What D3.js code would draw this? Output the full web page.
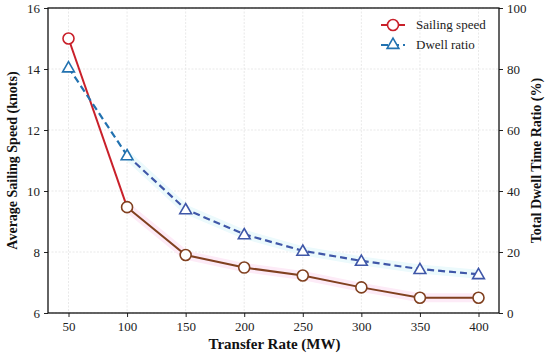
<!DOCTYPE html>
<html><head><meta charset="utf-8">
<script src="https://cdn.jsdelivr.net/npm/d3@7"></script>
<style>body{margin:0;background:#fff}svg{display:block}text{font-family:"Liberation Serif","Times New Roman",serif}</style>
</head><body>
<script>
const rates = [50,100,150,200,250,300,350,400];
const sailingSpeed = [15.0,9.47,7.9,7.49,7.23,6.84,6.5,6.5];
const dwellRatio = [80.5,51.7,34.0,25.8,20.4,17.1,14.4,12.7];
const xTicks = [50,100,150,200,250,300,350,400];
const leftTicks = [6,8,10,12,14,16];
const rightTicks = [0,20,40,60,80,100];

const W=550,H=357, L=48,R=499,T=8,B=313;
const svg=d3.select("body").append("svg").attr("width",W).attr("height",H);
const x=d3.scaleLinear().domain([32.5,417.5]).range([L,R]);
const yL=d3.scaleLinear().domain([6,16]).range([B,T]);
const yR=d3.scaleLinear().domain([0,100]).range([B,T]);

// grid
const g=svg.append("g");
g.selectAll(".vx").data(xTicks).join("line").attr("x1",d=>x(d)).attr("x2",d=>x(d)).attr("y1",T).attr("y2",B)
 .attr("stroke","#e3e3e3").attr("stroke-width",0.8).attr("stroke-dasharray","2,1.5");
g.selectAll(".hy").data(leftTicks).join("line").attr("x1",L).attr("x2",R).attr("y1",d=>yL(d)).attr("y2",d=>yL(d))
 .attr("stroke","#e3e3e3").attr("stroke-width",0.8).attr("stroke-dasharray","2,1.5");

const sTail=sailingSpeed.map((v,i)=>[rates[i],v]).slice(1);
const dTail=dwellRatio.map((v,i)=>[rates[i],v]).slice(1);
const lS2=d3.line().x(d=>x(d[0])).y(d=>yL(d[1]));
const lD2=d3.line().x(d=>x(d[0])).y(d=>yR(d[1]));
// faint glow bands
svg.append("path").attr("d",lS2(sTail)).attr("fill","none").attr("stroke","#fdebf7").attr("stroke-width",9).attr("stroke-linejoin","round");
svg.append("path").attr("d",lD2(dTail)).attr("fill","none").attr("stroke","#ecfafc").attr("stroke-width",9).attr("stroke-linejoin","round");

// sailing line: first segment red, rest brown
svg.append("path").attr("d",lS2([[rates[0],sailingSpeed[0]],[rates[1],sailingSpeed[1]]])).attr("fill","none").attr("stroke","#c9202a").attr("stroke-width",2);
svg.append("path").attr("d",lS2(sTail)).attr("fill","none").attr("stroke","#80401f").attr("stroke-width",2);
// dwell line
svg.append("path").attr("d",lD2([[rates[0],dwellRatio[0]],[rates[1],dwellRatio[1]]])).attr("fill","none").attr("stroke","#2272b0").attr("stroke-width",2.2).attr("stroke-dasharray","7,4");
svg.append("path").attr("d",lD2(dTail)).attr("fill","none").attr("stroke","#3f57a8").attr("stroke-width",2.2).attr("stroke-dasharray","7,4");

// markers
const tri=d3.symbol().type(d3.symbolTriangle).size(60);
svg.selectAll(".tm").data(dwellRatio).join("path").attr("d",tri)
 .attr("transform",(d,i)=>`translate(${x(rates[i])},${yR(d)+1})`)
 .attr("fill","#fff").attr("stroke",(d,i)=>i<2?"#2272b0":"#3f57a8").attr("stroke-width",1.6);
svg.selectAll(".cm").data(sailingSpeed).join("circle").attr("cx",(d,i)=>x(rates[i])).attr("cy",d=>yL(d)).attr("r",5.5)
 .attr("fill","#fff").attr("stroke",(d,i)=>i<1?"#c9202a":"#80401f").attr("stroke-width",1.6);

// axes
const ax=svg.append("g").attr("transform",`translate(0,${B})`).call(d3.axisBottom(x).tickValues(xTicks).tickSize(4).tickPadding(5));
const al=svg.append("g").attr("transform",`translate(${L},0)`).call(d3.axisLeft(yL).tickValues(leftTicks).tickSize(4).tickPadding(4));
const ar=svg.append("g").attr("transform",`translate(${R},0)`).call(d3.axisRight(yR).tickValues(rightTicks).tickSize(4).tickPadding(4));
[ax,al,ar].forEach(a=>{a.select(".domain").remove();a.selectAll("text").attr("font-size",13).attr("fill","#222").attr("font-family","Liberation Serif");a.selectAll("line").attr("stroke","#222");});
svg.append("rect").attr("x",L).attr("y",T).attr("width",R-L).attr("height",B-T).attr("fill","none").attr("stroke","#111").attr("stroke-width",1.3);

// labels
svg.append("text").attr("x",(L+R)/2+1).attr("y",349).attr("text-anchor","middle").attr("font-size",15).attr("font-weight","bold").attr("fill","#111").text("Transfer Rate (MW)");
svg.append("text").attr("transform",`translate(17,${(T+B)/2}) rotate(-90)`).attr("text-anchor","middle").attr("font-size",14).attr("font-weight","bold").attr("fill","#111").text("Average Sailing Speed (knots)");
svg.append("text").attr("transform",`translate(541,${(T+B)/2}) rotate(-90)`).attr("text-anchor","middle").attr("font-size",14).attr("font-weight","bold").attr("fill","#111").text("Total Dwell Time Ratio (%)");

// legend
const lg=svg.append("g");
lg.append("line").attr("x1",381).attr("x2",405).attr("y1",25).attr("y2",25).attr("stroke","#c9202a").attr("stroke-width",2);
lg.append("circle").attr("cx",393).attr("cy",25).attr("r",5.5).attr("fill","#fff").attr("stroke","#c9202a").attr("stroke-width",1.6);
lg.append("text").attr("x",416).attr("y",29).attr("font-size",13).attr("fill","#222").text("Sailing speed");
lg.append("line").attr("x1",381).attr("x2",405).attr("y1",45).attr("y2",45).attr("stroke","#2272b0").attr("stroke-width",2.2).attr("stroke-dasharray","7,4");
lg.append("path").attr("d",tri).attr("transform","translate(393,45)").attr("fill","#fff").attr("stroke","#2272b0").attr("stroke-width",1.6);
lg.append("text").attr("x",416).attr("y",49).attr("font-size",13).attr("fill","#222").text("Dwell ratio");
</script>
</body></html>
